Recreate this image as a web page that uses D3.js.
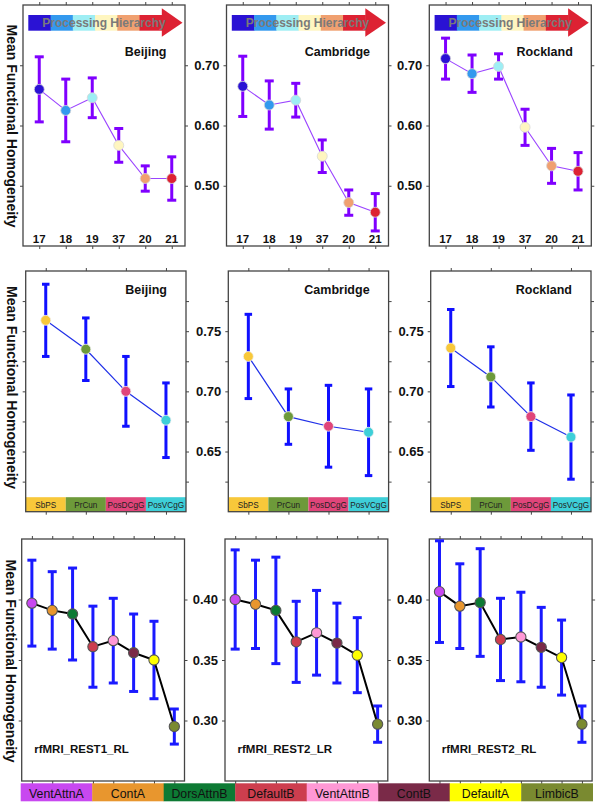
<!DOCTYPE html>
<html><head><meta charset="utf-8">
<script src="https://cdn.jsdelivr.net/npm/d3@7"></script>
<style>body{margin:0;background:#fff}svg{display:block}text{font-family:"Liberation Sans",Arial,sans-serif}</style>
</head><body><svg id="c" width="597" height="807"></svg>
<script>
// ---------- DATA ----------
const sites = ["Beijing", "Cambridge", "Rockland"];
const areaLabels = ["17", "18", "19", "37", "20", "21"];
const beijingAreaMean = [0.660, 0.625, 0.646, 0.567, 0.512, 0.512];
const beijingAreaErr = [0.054, 0.052, 0.033, 0.028, 0.021, 0.036];
const cambridgeAreaMean = [0.665, 0.634, 0.642, 0.549, 0.472, 0.456];
const cambridgeAreaErr = [0.050, 0.040, 0.028, 0.027, 0.021, 0.031];
const rocklandAreaMean = [0.711, 0.686, 0.698, 0.597, 0.533, 0.524];
const rocklandAreaErr = [0.034, 0.031, 0.021, 0.030, 0.029, 0.031];

const pcgLabels = ["SbPS", "PrCun", "PosDCgG", "PosVCgG"];
const beijingPcgMean = [0.759, 0.735, 0.700, 0.676];
const beijingPcgErr = [0.030, 0.026, 0.029, 0.031];
const cambridgePcgMean = [0.729, 0.679, 0.671, 0.666];
const cambridgePcgErr = [0.035, 0.023, 0.034, 0.036];
const rocklandPcgMean = [0.736, 0.712, 0.679, 0.662];
const rocklandPcgErr = [0.032, 0.025, 0.028, 0.035];

const networkLabels = ["VentAttnA", "ContA", "DorsAttnB", "DefaultB", "VentAttnB", "ContB", "DefaultA", "LimbicB"];
const sessions = ["rfMRI_REST1_RL", "rfMRI_REST2_LR", "rfMRI_REST2_RL"];
const rest1RLMean = [0.397, 0.391, 0.388, 0.361, 0.366, 0.356, 0.350, 0.295];
const rest1RLErr = [0.0355, 0.032, 0.038, 0.0335, 0.035, 0.032, 0.032, 0.0145];
const rest2LRMean = [0.400, 0.396, 0.391, 0.365, 0.3725, 0.364, 0.354, 0.297];
const rest2LRErr = [0.041, 0.0365, 0.044, 0.0335, 0.035, 0.033, 0.031, 0.015];
const rest2RLMean = [0.4065, 0.3945, 0.3975, 0.367, 0.369, 0.3605, 0.352, 0.297];
const rest2RLErr = [0.042, 0.035, 0.0445, 0.034, 0.037, 0.033, 0.031, 0.015];

const row1YTicks = [0.50, 0.60, 0.70];
const row2YTicks = [0.65, 0.70, 0.75];
const row2YMinor = [0.625, 0.675, 0.725, 0.775];
const row3YTicks = [0.30, 0.35, 0.40];
const yTitle = "Mean Functional Homogeneity";
const arrowText = "Processing Hierarchy";

// ---------- STYLE ----------
const areaColors = ["#2a12d4", "#3399ee", "#9eeef4", "#fff6c0", "#f0a070", "#dd2233"];
const pcgColors = ["#f8c83a", "#6d9a3a", "#e0457a", "#3ecfd8"];
const networkColors = ["#c848f0", "#e8962e", "#0d7a34", "#cd3e4e", "#ff98d5", "#7a2a48", "#ffff00", "#7a8a30"];

const svg = d3.select("#c");
const FONT = '"Liberation Sans", Arial, sans-serif';

function panel(o) {
  const g = svg.append("g");
  const x = d3.scalePoint().domain(o.labels).range([o.left + (o.xShift || 0), o.left + o.width]).padding(0.5);
  const y = d3.scaleLinear().domain(o.yDomain).range([o.top + o.height, o.top]);
  const right = o.left + o.width, bottom = o.top + o.height;

  if (o.strip) {
    const step = x.step();
    const sh = 14.5;
    o.labels.forEach((l, i) => {
      g.append("rect").attr("x", x(l) - step / 2).attr("y", bottom - sh).attr("width", step).attr("height", sh)
        .attr("fill", o.strip[i]);
      g.append("text").attr("x", x(l)).attr("y", bottom - 4).attr("text-anchor", "middle")
        .attr("font-size", 8.2).attr("fill", "#222").text(l);
    });
  }

  const allY = (o.yTicks).concat(o.yMinor || []);
  const tk = (axis, tr) => {
    const a = g.append("g").attr("transform", tr).call(axis);
    a.select(".domain").remove();
    a.selectAll(".tick line").attr("stroke", "#444").attr("stroke-width", 1);
    return a;
  };
  tk(d3.axisRight(y).tickValues(allY).tickSize(3).tickFormat(""), `translate(${right},0)`);
  const la = tk(d3.axisLeft(y).tickValues(allY).tickSize(3).tickPadding(4)
      .tickFormat(d => (o.showY && o.yTicks.includes(d)) ? d3.format(".2f")(d) : ""), `translate(${o.left},0)`);
  la.selectAll("text").attr("font-family", FONT).attr("font-size", 13).attr("font-weight", "bold").attr("fill", "#111");
  tk(d3.axisTop(x).tickSize(3).tickFormat(""), `translate(0,${o.top})`);
  tk(d3.axisBottom(x).tickSize(3).tickFormat(""), `translate(0,${bottom})`);

  g.append("rect").attr("x", o.left).attr("y", o.top).attr("width", o.width).attr("height", o.height)
    .attr("fill", "none").attr("stroke", "#444").attr("stroke-width", 1.3);

  if (o.arrow) {
    const ax0 = o.left + 5.3, segW = 22.25, ay0 = o.top + 10, ay1 = o.top + 25.7;
    o.arrow.forEach((c, i) => {
      g.append("rect").attr("x", ax0 + i * segW).attr("y", ay0).attr("width", segW + 0.5).attr("height", ay1 - ay0).attr("fill", c);
    });
    const hx = ax0 + 6 * segW;
    g.append("path").attr("d", `M${hx},${o.top + 3.3}L${o.left + 159.5},${(ay0 + ay1) / 2}L${hx},${o.top + 31.7}Z`).attr("fill", o.arrow[5]);
    g.append("text").attr("x", o.left + 81).attr("y", o.top + 21.5).attr("text-anchor", "middle")
      .attr("font-size", 12).attr("font-weight", "bold").attr("fill", "#7a7a7a").text(arrowText);
  }

  if (o.xLabelsInside) {
    o.labels.forEach(l => g.append("text").attr("x", x(l)).attr("y", bottom - 3.5).attr("text-anchor", "middle")
      .attr("font-size", 11.5).attr("font-weight", "bold").attr("fill", "#111").text(l));
  }

  const data = o.labels.map((l, i) => ({ l, m: o.mean[i], e: o.err[i], c: o.pt[i] }));
  const eb = g.append("g").attr("stroke", o.errColor).attr("stroke-width", o.errW).attr("fill", "none");
  data.forEach(d => {
    const xx = x(d.l), y1 = y(d.m + d.e), y0 = y(d.m - d.e);
    eb.append("line").attr("x1", xx).attr("x2", xx).attr("y1", y1).attr("y2", y0);
    eb.append("line").attr("x1", xx - o.cap / 2).attr("x2", xx + o.cap / 2).attr("y1", y1).attr("y2", y1);
    eb.append("line").attr("x1", xx - o.cap / 2).attr("x2", xx + o.cap / 2).attr("y1", y0).attr("y2", y0);
  });
  g.append("path").datum(data).attr("d", d3.line().x(d => x(d.l)).y(d => y(d.m)))
    .attr("fill", "none").attr("stroke", o.lineColor).attr("stroke-width", o.lineW);
  g.selectAll(null).data(data).enter().append("circle")
    .attr("cx", d => x(d.l)).attr("cy", d => y(d.m)).attr("r", o.r)
    .attr("fill", d => d.c).attr("stroke", o.ptStroke).attr("stroke-width", o.ptStrokeW);

  if (o.title) {
    const t = g.append("text").attr("font-weight", "bold").attr("fill", "#111").attr("font-size", o.titleSize).text(o.title);
    if (o.titleAnchor === "end") t.attr("x", right - o.titleDx).attr("y", o.titleY).attr("text-anchor", "end");
    else t.attr("x", o.left + o.titleDx).attr("y", o.titleY);
  }
}

// ---------- ROW 1 ----------
const row1Left = [23, 226.5, 429.3];
const row1Means = [beijingAreaMean, cambridgeAreaMean, rocklandAreaMean];
const row1Errs = [beijingAreaErr, cambridgeAreaErr, rocklandAreaErr];
row1Left.forEach((L, i) => panel({
  left: L, top: 5, width: 162, height: 241, labels: areaLabels, xShift: 3,
  yDomain: [0.40, 0.80], yTicks: row1YTicks, showY: i > 0,
  mean: row1Means[i], err: row1Errs[i], pt: areaColors,
  errColor: "#7f00ff", errW: 3, cap: 9, lineColor: "#9b45ff", lineW: 1.1,
  ptStroke: "#d8d8d8", ptStrokeW: 0.8, r: 5,
  arrow: areaColors, xLabelsInside: true,
  title: sites[i], titleAnchor: "end", titleDx: 18.5, titleY: 56, titleSize: 12.5
}));

// ---------- ROW 2 ----------
const row2Left = [25.7, 228.3, 430.7];
const row2Means = [beijingPcgMean, cambridgePcgMean, rocklandPcgMean];
const row2Errs = [beijingPcgErr, cambridgePcgErr, rocklandPcgErr];
row2Left.forEach((L, i) => panel({
  left: L, top: 271, width: 160.3, height: 240.7, labels: pcgLabels,
  yDomain: [0.60, 0.80], yTicks: row2YTicks, yMinor: row2YMinor, showY: i > 0,
  mean: row2Means[i], err: row2Errs[i], pt: pcgColors,
  errColor: "#1010ff", errW: 3, cap: 7.5, lineColor: "#2030e8", lineW: 1.2,
  ptStroke: "#f0f0f0", ptStrokeW: 0.8, r: 5,
  strip: pcgColors,
  title: sites[i], titleAnchor: "end", titleDx: 19, titleY: 294, titleSize: 12.5
}));

// ---------- ROW 3 ----------
const row3Left = [21.7, 225, 429.3];
const row3Means = [rest1RLMean, rest2LRMean, rest2RLMean];
const row3Errs = [rest1RLErr, rest2LRErr, rest2RLErr];
row3Left.forEach((L, i) => panel({
  left: L, top: 539, width: 162.8, height: 242, labels: networkLabels,
  yDomain: [0.25, 0.45], yTicks: row3YTicks, showY: i > 0,
  mean: row3Means[i], err: row3Errs[i], pt: networkColors,
  errColor: "#1a1aff", errW: 3, cap: 9, lineColor: "#000", lineW: 2,
  ptStroke: "#555", ptStrokeW: 1.1, r: 5.1,
  title: sessions[i], titleAnchor: "start", titleDx: 12.5, titleY: 753, titleSize: 11.5
}));

const legX = d3.scaleBand().domain(networkLabels).range([20.7, 592.7]);
const leg = svg.append("g");
networkLabels.forEach((l, i) => {
  leg.append("rect").attr("x", legX(l)).attr("y", 783.3).attr("width", legX.bandwidth() + 0.3).attr("height", 18)
    .attr("fill", networkColors[i]);
  leg.append("text").attr("x", legX(l) + legX.bandwidth() / 2).attr("y", 797.5).attr("text-anchor", "middle")
    .attr("font-size", 12.3).attr("fill", "#111").text(l);
});

[[12, 126], [12, 387.5], [11, 661]].forEach(([cx, cy]) => {
  svg.append("text").attr("transform", `translate(${cx},${cy}) rotate(90)`)
    .attr("text-anchor", "middle").attr("dy", "0.35em")
    .attr("font-size", 14).attr("font-weight", "bold").attr("fill", "#111").text(yTitle);
});
</script></body></html>
